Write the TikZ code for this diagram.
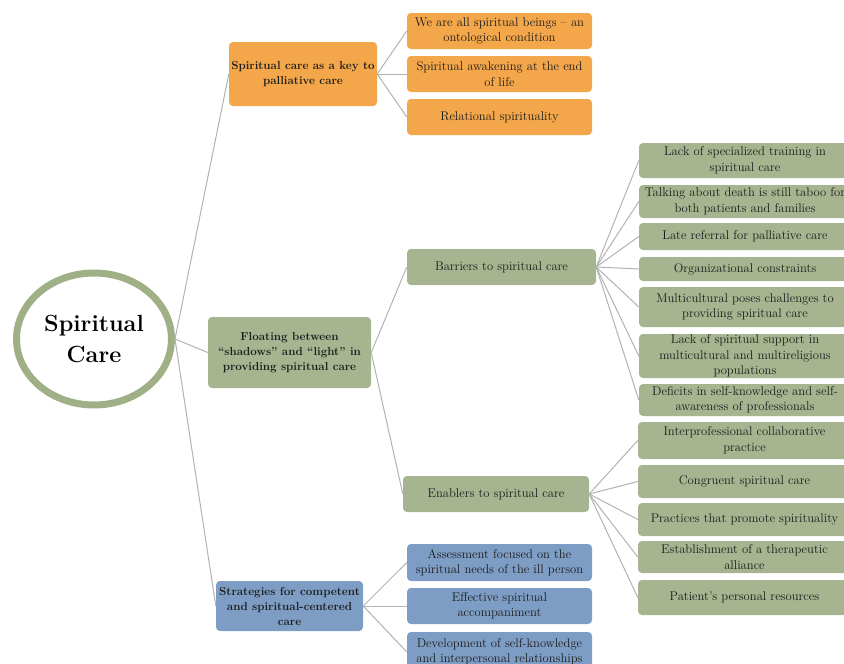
\documentclass[tikz,border=0pt]{standalone}
\usetikzlibrary{shapes.geometric}
\definecolor{orng}{RGB}{243,166,74}
\definecolor{grn}{RGB}{166,180,143}
\definecolor{blu}{RGB}{126,157,196}
\definecolor{ring}{RGB}{160,176,134}
\definecolor{conn}{RGB}{178,178,178}
\definecolor{txt}{RGB}{28,28,28}
\begin{document}
\begin{tikzpicture}[x=1pt,y=-1pt,
  box/.style={rounded corners=4pt, inner sep=0pt, align=center, text=txt,
    font=\fontsize{12.6}{15.5}\selectfont},
  hbox/.style={box, font=\bfseries\fontsize{11.6}{15}\selectfont},
  og/.style={fill=orng}, gg/.style={fill=grn}, bg/.style={fill=blu},
  sz/.style n args={2}{minimum width=#1pt, minimum height=#2pt},
  link/.style={draw=conn, line width=1pt}]
\useasboundingbox (0,0) rectangle (844,664);
\clip (0,0) rectangle (844,664);

% root
\node[ellipse, draw=ring, line width=7pt, fill=white, minimum width=155pt,
  minimum height=132pt, inner sep=0pt, align=center, text=black,
  font=\bfseries\fontsize{23.4}{31}\selectfont] (e) at (94,339) {Spiritual\\Care};

% level 1
\node[hbox, og, sz={148}{64}] (o1) at (303,74) {Spiritual care as a key to\\palliative care};
\node[hbox, gg, sz={163}{71}] (f1) at (289.5,352.5) {Floating between\\“shadows” and “light” in\\providing spiritual care};
\node[hbox, bg, sz={147}{50}] (b1) at (289.5,606) {Strategies for competent\\and spiritual-centered\\care};

% orange children
\node[box, og, sz={185}{36}] (oa) at (499.5,31) {We are all spiritual beings – an\\ontological condition};
\node[box, og, sz={185}{36}] (ob) at (499.5,74) {Spiritual awakening at the end\\of life};
\node[box, og, sz={185}{36}] (oc) at (499.5,117) {Relational spirituality};

% green level 2
\node[box, gg, sz={189}{36}] (ga) at (501.5,267) {Barriers to spiritual care};
\node[box, gg, sz={186}{36}] (gb) at (496,494) {Enablers to spiritual care};

% barriers
\node[box, gg, sz={212}{35}] (c1) at (745,160.5) {Lack of specialized training in\\spiritual care};
\node[box, gg, sz={212}{33}] (c2) at (745,201.5) {Talking about death is still taboo for\\both patients and families};
\node[box, gg, sz={212}{27}] (c3) at (745,236.5) {Late referral for palliative care};
\node[box, gg, sz={212}{24}] (c4) at (745,269) {Organizational constraints};
\node[box, gg, sz={212}{40}] (c5) at (745,307) {Multicultural poses challenges to\\providing spiritual care};
\node[box, gg, sz={212}{44}] (c6) at (745,356) {Lack of spiritual support in\\multicultural and multireligious\\populations};
\node[box, gg, sz={212}{32}] (c7) at (745,400) {Deficits in self-knowledge and self-\\awareness of professionals};

% enablers
\node[box, gg, sz={213}{37}] (d1) at (744.5,440.5) {Interprofessional collaborative\\practice};
\node[box, gg, sz={213}{33}] (d2) at (744.5,481.5) {Congruent spiritual care};
\node[box, gg, sz={213}{33}] (d3) at (744.5,519.5) {Practices that promote spirituality};
\node[box, gg, sz={213}{32}] (d4) at (744.5,557) {Establishment of a therapeutic\\alliance};
\node[box, gg, sz={213}{35}] (d5) at (744.5,597.5) {Patient’s personal resources};

% strategies
\node[box, bg, sz={185}{37}] (s1) at (499.5,562.5) {Assessment focused on the\\spiritual needs of the ill person};
\node[box, bg, sz={185}{36}] (s2) at (499.5,606) {Effective spiritual\\accompaniment};
\node[box, bg, sz={185}{40}] (s3) at (499.5,652) {Development of self-knowledge\\and interpersonal relationships};

% connectors
\foreach \t in {o1,f1,b1} \draw[link] (e.east) -- (\t.west);
\foreach \t in {oa,ob,oc} \draw[link] (o1.east) -- (\t.west);
\foreach \t in {ga,gb} \draw[link] (f1.east) -- (\t.west);
\foreach \t in {c1,c2,c3,c4,c5,c6,c7} \draw[link] (ga.east) -- (\t.west);
\foreach \t in {d1,d2,d3,d4,d5} \draw[link] (gb.east) -- (\t.west);
\foreach \t in {s1,s2,s3} \draw[link] (b1.east) -- (\t.west);
\end{tikzpicture}
\end{document}
